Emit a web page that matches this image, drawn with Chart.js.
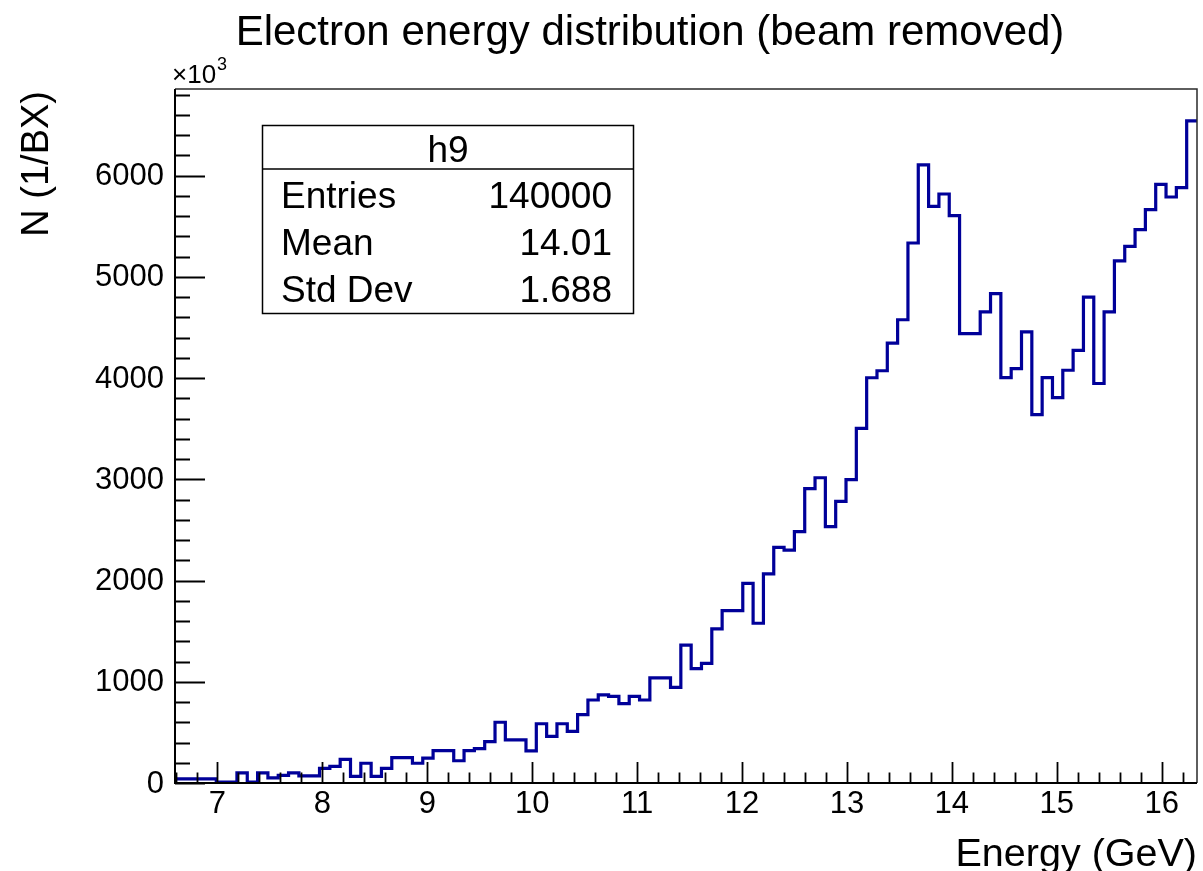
<!DOCTYPE html>
<html>
<head>
<meta charset="utf-8">
<title>Electron energy distribution</title>
<script src="https://cdn.jsdelivr.net/npm/chart.js@4.4.0/dist/chart.umd.min.js"></script>
<style>
  html, body { margin: 0; padding: 0; background: #ffffff; }
  #wrap { width: 1203px; height: 871px; }
  canvas { display: block; }
</style>
</head>
<body>
<div id="wrap"><canvas id="hist" width="1203" height="871"></canvas></div>
<script>
// ---- histogram definition (TH1-like: nbins between xLow and xUp) ----
const histName = 'h9';
const histTitle = 'Electron energy distribution (beam removed)';
const xAxisTitle = 'Energy (GeV)';
const yAxisTitle = 'N (1/BX)';
const yScaleExponent = '3';
const xLow = 6.595;
const xUp = 16.337;

// bin contents, in units of 10^3 per bunch crossing, lowest energy first
const binContents = [
  40, 40, 40, 40, 8, 8, 100, 8, 100, 50,
  75, 100, 70, 70, 145, 165, 234, 65, 195, 65,
  145, 250, 250, 195, 245, 320, 320, 220, 320, 340,
  408, 600, 425, 425, 318, 585, 460, 585, 510, 675,
  820, 870, 855, 785, 855, 820, 1038, 1038, 945, 1362,
  1130, 1182, 1522, 1703, 1703, 1972, 1578, 2065, 2328, 2300,
  2483, 2907, 3015, 2532, 2782, 2996, 3502, 4003, 4072, 4345,
  4576, 5334, 6105, 5695, 5818, 5605, 4439, 4439, 4653, 4834,
  4005, 4093, 4456, 3639, 4005, 3807, 4077, 4274, 4800, 3946,
  4653, 5157, 5301, 5466, 5663, 5913, 5788, 5881, 6540
];

// axis ticks
const xTickLabels = [7, 8, 9, 10, 11, 12, 13, 14, 15, 16];
const yTickLabels = [0, 1000, 2000, 3000, 4000, 5000, 6000];
const yMax = 6855;

// statistics box
const statsLabels = ['Entries', 'Mean', 'Std Dev'];
const statsValues = ['140000', '14.01', '1.688'];

// ---- build step points from the bin edges ----
const nBins = binContents.length;
const binWidth = (xUp - xLow) / nBins;
const stepPoints = binContents.map((v, i) => ({ x: xLow + i * binWidth, y: v }));
stepPoints.push({ x: xUp, y: binContents[nBins - 1] });

const FONT = '"Liberation Sans", Arial, Helvetica, sans-serif';

// ROOT-style frame, inward ticks, labels, titles and stats box
const rootDecorations = {
  id: 'rootDecorations',
  afterDraw(chart) {
    const ctx = chart.ctx;
    const a = chart.chartArea;
    const xs = chart.scales.x;
    const ys = chart.scales.y;
    ctx.save();

    // top and right frame edges
    ctx.strokeStyle = '#2a2a2a';
    ctx.lineWidth = 1.5;
    ctx.beginPath();
    ctx.moveTo(a.left, a.top);
    ctx.lineTo(a.right, a.top);
    ctx.lineTo(a.right, a.bottom);
    ctx.stroke();

    // left and bottom axis lines
    ctx.strokeStyle = '#000000';
    ctx.lineWidth = 2;
    ctx.beginPath();
    ctx.moveTo(a.left, a.top);
    ctx.lineTo(a.left, a.bottom);
    ctx.lineTo(a.right, a.bottom);
    ctx.stroke();

    // y ticks: majors at labels, 5 subdivisions
    ctx.lineWidth = 1.8;
    const yStep = yTickLabels[1] - yTickLabels[0];
    ctx.beginPath();
    for (let v = 0; v <= yMax + 1e-6; v += yStep / 5) {
      const py = Math.round(ys.getPixelForValue(v)) + 0.5;
      const major = Math.abs(v / yStep - Math.round(v / yStep)) < 1e-6;
      ctx.moveTo(a.left, py);
      ctx.lineTo(a.left + (major ? 30 : 15), py);
    }
    ctx.stroke();

    // x ticks: majors at labels, 5 subdivisions
    const xStep = xTickLabels[1] - xTickLabels[0];
    ctx.beginPath();
    for (let m = xTickLabels[0] - xStep; m <= xTickLabels[xTickLabels.length - 1]; m += xStep) {
      for (let k = 0; k < 5; k++) {
        const v = m + k * xStep / 5;
        if (v <= xLow + 1e-3 || v >= xUp - 1e-3) continue;
        const px = Math.round(xs.getPixelForValue(v)) + 0.5;
        ctx.moveTo(px, a.bottom);
        ctx.lineTo(px, a.bottom - (k === 0 ? 21 : 10.5));
      }
    }
    ctx.stroke();

    // tick labels
    ctx.fillStyle = '#000000';
    ctx.font = '31px ' + FONT;
    ctx.textAlign = 'right';
    ctx.textBaseline = 'middle';
    yTickLabels.forEach(v => {
      ctx.fillText(String(v), a.left - 11, ys.getPixelForValue(v) + 1);
    });
    ctx.textAlign = 'center';
    ctx.textBaseline = 'alphabetic';
    xTickLabels.forEach(v => {
      ctx.fillText(String(v), xs.getPixelForValue(v), a.bottom + 30);
    });

    // exponent marker above the y axis
    ctx.textAlign = 'left';
    ctx.font = '26px ' + FONT;
    const expBase = '\u00d710';
    ctx.fillText(expBase, a.left - 3, a.top - 6);
    const wBase = ctx.measureText(expBase).width;
    ctx.font = '18px ' + FONT;
    ctx.fillText(yScaleExponent, a.left - 3 + wBase + 1, a.top - 19);

    // main title
    ctx.font = '42px ' + FONT;
    ctx.textAlign = 'center';
    ctx.fillText(histTitle, 650, 45);

    // x axis title, right aligned to the frame
    ctx.font = '39.5px ' + FONT;
    ctx.textAlign = 'right';
    ctx.fillText(xAxisTitle, a.right, 866);

    // y axis title, rotated, aligned to the top of the frame
    ctx.save();
    ctx.translate(48, a.top + 2);
    ctx.rotate(-Math.PI / 2);
    ctx.font = '38px ' + FONT;
    ctx.textAlign = 'right';
    ctx.fillText(yAxisTitle, 0, 0);
    ctx.restore();

    // statistics box
    const bx = 262.5, by = 125.5, bw = 371, bh = 188;
    ctx.fillStyle = '#ffffff';
    ctx.fillRect(bx, by, bw, bh);
    ctx.strokeStyle = '#000000';
    ctx.lineWidth = 1.5;
    ctx.strokeRect(bx, by, bw, bh);
    ctx.beginPath();
    ctx.moveTo(bx, 169);
    ctx.lineTo(bx + bw, 169);
    ctx.stroke();
    ctx.fillStyle = '#000000';
    ctx.font = '37px ' + FONT;
    ctx.textAlign = 'center';
    ctx.fillText(histName, bx + bw / 2, 162);
    const rowBase = [208, 255, 302];
    statsLabels.forEach((lab, i) => {
      ctx.textAlign = 'left';
      ctx.fillText(lab, 281, rowBase[i]);
      ctx.textAlign = 'right';
      ctx.fillText(statsValues[i], 612, rowBase[i]);
    });

    ctx.restore();
  }
};

new Chart(document.getElementById('hist').getContext('2d'), {
  type: 'line',
  data: {
    datasets: [{
      label: histName,
      data: stepPoints,
      stepped: 'before',
      borderColor: '#000099',
      borderWidth: 3.2,
      pointRadius: 0,
      fill: false,
      tension: 0
    }]
  },
  options: {
    responsive: false,
    animation: false,
    devicePixelRatio: 1,
    layout: { padding: { left: 175, right: 6, top: 89, bottom: 88 } },
    scales: {
      x: { type: 'linear', min: xLow, max: xUp, display: false },
      y: { type: 'linear', min: 0, max: yMax, display: false }
    },
    plugins: {
      legend: { display: false },
      tooltip: { enabled: false },
      title: { display: false }
    }
  },
  plugins: [rootDecorations]
});
</script>
</body>
</html>
